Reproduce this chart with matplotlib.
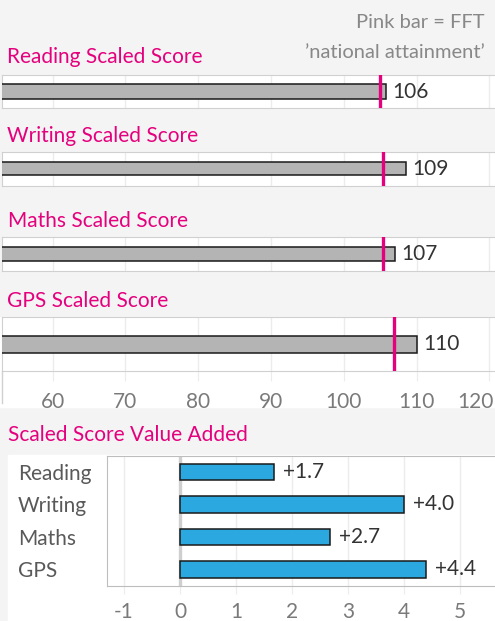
import matplotlib
matplotlib.use("Agg")
from matplotlib import pyplot as plt
from matplotlib.patches import Rectangle
from matplotlib.lines import Line2D
from matplotlib.transforms import ScaledTranslation

# data
subjects = ['Reading', 'Writing', 'Maths', 'GPS']
scaled_scores = [105.8, 108.6, 107.1, 110.1]
national_attainment = [105.0, 105.35, 105.4, 106.9]
value_added = [1.68, 4.0, 2.68, 4.39]
score_ticks = [60, 70, 80, 90, 100, 110, 120]
va_ticks = [-1, 0, 1, 2, 3, 4, 5]

W, H = 495, 621
PINK = '#e5007d'
FS = 15
plt.rcParams['font.family'] = ['Lato', 'DejaVu Sans']
plt.rcParams['axes.unicode_minus'] = False

fig = plt.figure(figsize=(W / 100, H / 100), dpi=100, facecolor='#f4f4f4')


def box(x0, y0, x1, y1):
    # pixel box (top-left origin) -> figure fraction
    return [x0 / W, 1 - y1 / H, (x1 - x0) / W, (y1 - y0) / H]


def fig_rect(x0, y0, x1, y1, color):
    fig.patches.append(Rectangle((x0 / W, 1 - y1 / H), (x1 - x0) / W, (y1 - y0) / H,
                                 transform=fig.transFigure, color=color, zorder=-5))


def px_to_val(px, p0, v0, scale):
    return v0 + (px - p0) / scale


# top panels: pixel geometry
panel_boxes = [(74.7, 108.3), (151.7, 185.7), (237.3, 271.0), (317.3, 371.0)]
bar_heights = [0.42, 0.40, 0.41, 0.32]
title_base = [63.3, 141.7, 226.7, 306.7]
title_x = [6.7, 6.7, 8.3, 6.7]

# x scale: 60 -> 52.7px, 120 -> 489.3px
sc = (489.3 - 52.7) / 60.0
ax_left, ax_right = 2.0, 497.0
xmin = px_to_val(ax_left, 52.7, 60, sc)
xmax = px_to_val(ax_right, 52.7, 60, sc)

# white area under the GPS panel for its axis labels
fig_rect(0, 317, W, 407, 'white')
fig.add_artist(Line2D([ax_left / W, ax_left / W], [1 - 371 / H, 1 - 403 / H],
                      transform=fig.transFigure, color='#d0d0d0', lw=1))

for i, subj in enumerate(subjects):
    y0, y1 = panel_boxes[i]
    ax = fig.add_axes(box(ax_left, y0, ax_right, y1))
    ax.set_facecolor('white')
    ax.barh(0, scaled_scores[i], height=bar_heights[i], color='#b4b4b4',
            edgecolor='#1a1a1a', linewidth=1.1, zorder=3)
    ax.axvline(national_attainment[i], color=PINK, lw=2.4, zorder=4)
    ax.text(scaled_scores[i] + 6 / sc, 0, '%.0f' % scaled_scores[i], va='center',
            ha='left', fontsize=FS, color='#333333', zorder=5)
    ax.set_xlim(xmin, xmax)
    ax.set_ylim(-0.5, 0.5)
    ax.set_yticks([])
    ax.set_xticks(score_ticks)
    ax.grid(axis='x', color='#ececec', lw=1, zorder=0)
    for s in ['top', 'bottom', 'left']:
        ax.spines[s].set_color('#d0d0d0')
    ax.spines['right'].set_visible(False)
    if i == 3:
        ax.tick_params(axis='x', length=7, color='#ececec', pad=8,
                       labelsize=FS, labelcolor='#7a7a7a')
        last = ax.get_xticklabels()[-1]
        last.set_ha('right')
        last.set_transform(last.get_transform() + ScaledTranslation(4 / 100, 0, fig.dpi_scale_trans))
    else:
        ax.tick_params(axis='x', length=0, labelbottom=False)
    fig.text(title_x[i] / W, 1 - title_base[i] / H, subj + ' Scaled Score',
             color=PINK, fontsize=FS, va='baseline', ha='left')

fig.text(485 / W, 1 - 28.3 / H, 'Pink bar = FFT', color='#888888', fontsize=14.5,
         ha='right', va='baseline')
fig.text(485 / W, 1 - 57.7 / H, '\u2019national attainment\u2019', color='#888888',
         fontsize=14.5, ha='right', va='baseline')

# bottom panel: value added
fig_rect(8, 455, W, H, 'white')
fig.text(8.3 / W, 1 - 440.7 / H, 'Scaled Score Value Added', color=PINK,
         fontsize=FS, va='baseline', ha='left')

# x scale: 0 -> 180px, 1 unit = 56px
vsc = 56.0
bx0, bx1 = 107.0, 500.0
ax2 = fig.add_axes(box(bx0, 455.7, bx1, 585.7))
ax2.set_facecolor('white')
ypos = list(range(len(subjects)))
ax2.barh(ypos, value_added, height=0.5, color='#2ca8e0', edgecolor='#1a1a1a',
         linewidth=1.1, zorder=3)
for y, v in zip(ypos, value_added):
    ax2.text(v + 9 / vsc, y, '%+.1f' % v, va='center', ha='left', fontsize=FS,
             color='#333333', zorder=5)
ax2.axvline(0, color='#cfcfcf', lw=2.4, zorder=2)
ax2.set_xlim(px_to_val(bx0, 180, 0, vsc), px_to_val(bx1, 180, 0, vsc))
ax2.set_ylim(3.5, -0.5)
ax2.set_xticks(va_ticks)
ax2.set_yticks(ypos)
ax2.set_yticklabels(subjects)
for lab in ax2.get_yticklabels():
    lab.set_ha('left')
ax2.tick_params(axis='y', length=0, pad=64, labelsize=FS, labelcolor='#595959')
ax2.tick_params(axis='x', length=6, color='#ececec', pad=5.5, labelsize=FS,
                labelcolor='#7a7a7a')
ax2.grid(axis='x', color='#ececec', lw=1, zorder=0)
for s in ['top', 'bottom', 'left']:
    ax2.spines[s].set_color('#bdbdbd')
ax2.spines['right'].set_visible(False)

fig.savefig('out.png', dpi=100, facecolor=fig.get_facecolor())
